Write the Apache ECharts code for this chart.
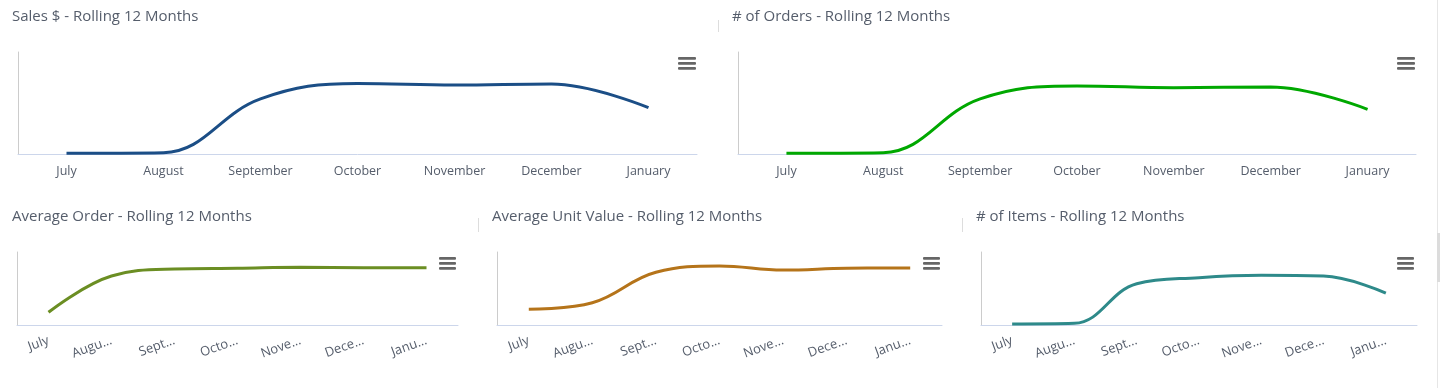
<!DOCTYPE html>
<html><head><meta charset="utf-8">
<script src="https://cdn.jsdelivr.net/npm/echarts@6/dist/echarts.min.js"></script>
<style>html,body{margin:0;padding:0;background:#fff}#c{width:1440px;height:388px}</style>
</head><body><div id="c"></div>
<script>
// ---- data ----
const months = ['July', 'August', 'September', 'October', 'November', 'December', 'January'];
const salesValues = [0.7, 1.3, 54, 69.1, 67.6, 68.6, 45.4];
const ordersValues = [0.7, 1.3, 54, 66.7, 65, 65.7, 43.8];
const avgOrderValues = [17.4, 67.1, 76.7, 77.7, 79, 78.5, 78.5];
const avgUnitValues = [21.5, 30.5, 72.2, 80.8, 75.3, 77.7, 78.1];
const itemsValues = [1.4, 2.3, 56.6, 64.8, 68.1, 67.1, 43.8];
const chartTitles = ['Sales $ - Rolling 12 Months', '# of Orders - Rolling 12 Months',
  'Average Order - Rolling 12 Months', 'Average Unit Value - Rolling 12 Months', '# of Items - Rolling 12 Months'];

// ---- layout / style ----
const seriesValues = [salesValues, ordersValues, avgOrderValues, avgUnitValues, itemsValues];
const colors = ['#1b4e86', '#00a800', '#6b8e23', '#b5741a', '#2e8a8a'];
const grids = [
  {left: 18, top: 52, width: 679, height: 102},
  {left: 738, top: 52, width: 678, height: 102},
  {left: 17, top: 252, width: 441, height: 73},
  {left: 497, top: 252, width: 445, height: 73},
  {left: 981, top: 252, width: 436, height: 73}
];
const titlePos = [[12, 9], [732, 9], [12, 209], [492, 209], [976, 209]];
const menuPos = [[678, 57, 18], [1397, 57, 18], [439, 257, 17], [923, 257, 17], [1397, 257, 17]];
const FONT = '"Open Sans", sans-serif';
const textColor = '#555d6b';
const axisColor = '#ccd6eb';

const chart = echarts.init(document.getElementById('c'), null, {renderer: 'canvas'});

const graphics = [];
menuPos.forEach(([x, y, w]) => {
  [0, 5, 10].forEach(dy => graphics.push({
    type: 'rect', shape: {x: x, y: y + dy, width: w, height: 2.7, r: 1},
    style: {fill: '#666666'}, silent: true
  }));
});
[[718.5, 20, 32], [478.5, 218, 232], [962.5, 218, 232]].forEach(([x, y1, y2]) => graphics.push({
  type: 'line', shape: {x1: x, y1: y1, x2: x, y2: y2}, style: {stroke: '#dddddd', lineWidth: 1}, silent: true
}));
graphics.push({type: 'line', shape: {x1: 1437.5, y1: 0, x2: 1437.5, y2: 388}, style: {stroke: '#e6e6e6', lineWidth: 1}, silent: true});
graphics.push({type: 'rect', shape: {x: 1437, y: 233, width: 3, height: 49}, style: {fill: '#dcdcdc'}, silent: true});

const option = {
  animation: false,
  backgroundColor: '#ffffff',
  title: chartTitles.map((t, i) => ({
    text: t, left: titlePos[i][0], top: titlePos[i][1], padding: 0,
    textStyle: {fontFamily: FONT, fontSize: 15, fontWeight: 'normal', color: textColor}
  })),
  grid: grids,
  xAxis: grids.map((g, i) => ({
    gridIndex: i, type: 'category', data: months, boundaryGap: true,
    axisLine: {lineStyle: {color: axisColor}},
    axisTick: {alignWithLabel: true, length: 5, lineStyle: {color: axisColor}},
    axisLabel: i < 2 ? {
      interval: 0, margin: 11, fontFamily: FONT, fontSize: 12.5, color: textColor
    } : {
      interval: 0, margin: 15, rotate: 20, fontFamily: FONT, fontSize: 13, color: textColor,
      formatter: v => v.length > 4 ? v.slice(0, 4) + '...' : v
    }
  })),
  yAxis: grids.map((g, i) => ({
    gridIndex: i, type: 'value', min: 0, max: 100,
    axisLine: {show: true, lineStyle: {color: '#cccccc'}},
    axisTick: {show: false}, axisLabel: {show: false}, splitLine: {show: false}
  })),
  series: seriesValues.map((vals, i) => ({
    type: 'line', xAxisIndex: i, yAxisIndex: i, data: vals, smooth: 0.4,
    showSymbol: false, lineStyle: {width: 3, color: colors[i]}, itemStyle: {color: colors[i]}
  })),
  graphic: graphics
};
chart.setOption(option);
</script>
</body></html>
